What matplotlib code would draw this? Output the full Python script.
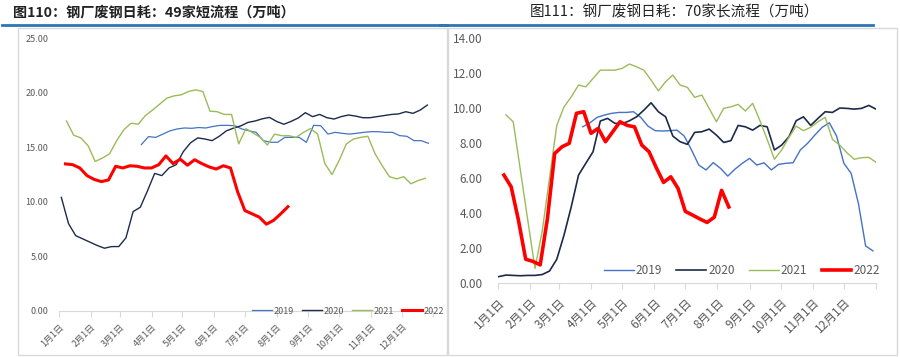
import numpy as np
import matplotlib
matplotlib.use("Agg")
import matplotlib.pyplot as plt
from matplotlib.patches import Rectangle
from matplotlib.lines import Line2D

plt.rcParams['font.family'] = ['Noto Sans CJK SC', 'DejaVu Sans']

# --- data (weekly readings, x = day of year of first reading) ---
month_days = [0, 31, 59, 90, 120, 151, 181, 212, 243, 273, 304, 334, 365]
month_labels = ['1月1日', '2月1日', '3月1日', '4月1日', '5月1日', '6月1日',
                '7月1日', '8月1日', '9月1日', '10月1日', '11月1日', '12月1日', '']
years = ['2019', '2020', '2021', '2022']

# 49 EAF mills (left)
short_start = [80, 2, 7, 6]
short_2019 = [15.24, 15.97, 15.9, 16.2, 16.5, 16.67, 16.76, 16.73, 16.8, 16.76,
              16.9, 17.0, 17.0, 16.97, 16.67, 16.5, 16.36, 15.6, 15.45, 15.45,
              15.9, 15.9, 15.9, 15.45, 17.0, 16.97, 16.2, 16.36, 16.27, 16.2,
              16.27, 16.36, 16.42, 16.42, 16.36, 16.36, 16.06, 16.0, 15.6, 15.6,
              15.36]
short_2020 = [10.4, 8.0, 6.9, 6.6, 6.3, 6.0, 5.75, 5.9, 5.9, 6.7,
              9.1, 9.5, 11.0, 12.6, 12.4, 13.1, 13.4, 14.6, 15.4, 15.85,
              15.75, 15.6, 16.0, 16.5, 16.75, 16.95, 17.27, 17.4, 17.6, 17.73,
              17.36, 17.1, 17.36, 17.67, 18.16, 17.8, 18.0, 17.7, 17.58, 17.8,
              17.95, 17.85, 17.7, 17.7, 17.8, 17.9, 18.0, 18.05, 18.25, 18.1,
              18.4, 18.86]
short_2021 = [17.4, 16.1, 15.85, 15.15, 13.7, 14.0, 14.4, 15.6, 16.6, 17.2,
              17.1, 17.9, 18.4, 18.95, 19.5, 19.7, 19.8, 20.1, 20.25, 20.1,
              18.3, 18.25, 18.0, 18.0, 15.3, 16.7, 16.3, 15.9, 15.2, 16.2,
              16.05, 16.05, 15.9, 16.35, 16.7, 16.2, 13.5, 12.5, 13.8, 15.3,
              15.75, 15.9, 16.0, 14.4, 13.3, 12.3, 12.1, 12.3, 11.65, 11.95,
              12.15]
short_2022 = [13.47, 13.4, 13.1, 12.4, 12.05, 11.85, 12.0, 13.25, 13.1, 13.3,
              13.25, 13.1, 13.1, 13.4, 14.2, 13.5, 13.9, 13.35, 13.85, 13.5,
              13.2, 13.0, 13.3, 13.1, 10.9, 9.2, 8.9, 8.6, 7.95, 8.3,
              8.9, 9.55]

# 70 BF mills (right)
long_start = [82, 1, 8, 6]
long_2019 = [8.92, 9.15, 9.46, 9.59, 9.69, 9.74, 9.74, 9.78, 9.46, 8.96,
             8.7, 8.68, 8.7, 8.73, 8.39, 7.6, 6.74, 6.46, 6.88, 6.55,
             6.11, 6.51, 6.84, 7.12, 6.74, 6.87, 6.46, 6.78, 6.84, 6.87,
             7.6, 7.98, 8.45, 8.89, 9.15, 8.39, 6.84, 6.27, 4.56, 2.13,
             1.85]
long_2020 = [0.38, 0.47, 0.45, 0.43, 0.45, 0.45, 0.5, 0.7, 1.37, 2.75,
             4.37, 6.17, 6.84, 7.5, 9.25, 9.4, 9.12, 9.1, 9.26, 9.49,
             9.87, 10.29, 9.78, 9.49, 8.39, 8.07, 7.92, 8.6, 8.64, 8.79,
             8.45, 8.03, 8.13, 9.0, 8.92, 8.73, 9.0, 8.92, 7.6, 7.88,
             8.35, 9.27, 9.49, 9.0, 9.4, 9.78, 9.74, 9.99, 9.97, 9.93,
             9.97, 10.14, 9.93]
long_2021 = [9.6, 9.2, 6.4, 3.6, 0.85, 3.0, 6.0, 9.0, 10.06, 10.63,
             11.3, 11.2, 11.68, 12.15, 12.15, 12.15, 12.25, 12.5, 12.34, 12.15,
             11.58, 10.97, 11.49, 11.87, 11.3, 11.17, 10.6, 10.73, 9.97, 9.21,
             9.97, 10.06, 10.2, 9.82, 10.26, 9.27, 8.2, 7.07, 7.6, 8.32,
             8.96, 8.7, 8.89, 9.21, 9.46, 8.2, 7.88, 7.44, 7.07, 7.16,
             7.18, 6.9]
long_2022 = [6.17, 5.5, 3.6, 1.37, 1.25, 1.05, 3.7, 7.4, 7.78, 7.98,
             9.69, 9.78, 8.55, 8.83, 8.07, 8.64, 9.21, 9.0, 8.92, 7.88,
             7.5, 6.59, 5.75, 6.07, 5.41, 4.1, 3.89, 3.67, 3.47, 3.77,
             5.3, 4.35]

colors = ['#4472C4', '#1C2B4A', '#9BBB59', '#FF0000']
W, H = 900, 357


def px_box(x0, y0, x1, y1):
    # pixel box (top-left origin) -> figure fraction
    return [x0 / W, 1 - y1 / H, (x1 - x0) / W, (y1 - y0) / H]


fig = plt.figure(figsize=(9, 3.57), dpi=100)

# frames and blue header rules
for x0, x1 in [(18, 447), (448, 897)]:
    fig.add_artist(Rectangle((x0 / W, 1 - 355 / H), (x1 - x0) / W, (355 - 28) / H,
                             transform=fig.transFigure, fill=False,
                             ec='#D9D9D9', lw=1))
fig.add_artist(Line2D([2 / W, 447 / W], [1 - 25 / H] * 2, transform=fig.transFigure,
                      color='#2E75B6', lw=2))
fig.add_artist(Line2D([440 / W, 873 / W], [1 - 25 / H] * 2, transform=fig.transFigure,
                      color='#2E75B6', lw=2))

fig.text(13 / W, 1 - 12 / H, '图110：钢厂废钢日耗：49家短流程（万吨）', fontsize=10.2,
         fontweight='bold', ha='left', va='center', color='#222222')
fig.text(530 / W, 1 - 12 / H, '图111：钢厂废钢日耗：70家长流程（万吨）', fontsize=10.5,
         ha='left', va='center', color='#222222')


def panel(box, starts, data, ylim, yticks, fs, lws, leg_center, leg_fs,
          handle_len, col_space, ypad, xpad):
    ax = fig.add_axes(box)
    for name, s, vals, c, lw in zip(years, starts, data, colors, lws):
        x = s + 7 * np.arange(len(vals))
        ax.plot(x, vals, color=c, lw=lw, label=name, solid_joinstyle='round')
    ax.set_xlim(0, 365)
    ax.set_ylim(*ylim)
    ax.set_yticks(yticks)
    ax.set_yticklabels([f'{v:.2f}' for v in yticks], fontsize=fs, color='#595959')
    ax.set_xticks(month_days)
    ax.set_xticklabels(month_labels, fontsize=fs, color='#595959', rotation=45,
                       ha='right', va='top', rotation_mode='anchor')
    for s in ['top', 'right', 'left']:
        ax.spines[s].set_visible(False)
    ax.spines['bottom'].set_color('#D9D9D9')
    ax.tick_params(axis='y', length=0, pad=ypad)
    ax.tick_params(axis='x', length=4, color='#D9D9D9', pad=xpad)
    ax.patch.set_alpha(0)
    ax.legend(ncol=4, frameon=False, loc='center', fontsize=leg_fs,
              bbox_to_anchor=(leg_center[0] / W, 1 - leg_center[1] / H),
              bbox_transform=fig.transFigure, handlelength=handle_len,
              handletextpad=0.2, columnspacing=col_space, labelcolor='#595959',
              borderaxespad=0, borderpad=0)
    return ax


panel(px_box(59.3, 38, 433.5, 311), short_start,
      [short_2019, short_2020, short_2021, short_2022],
      (0, 25), [0, 5, 10, 15, 20, 25], 6.5, [0.9, 1.0, 1.0, 2.2],
      (348, 311), 6.5, 2.2, 0.9, 8, 4)

panel(px_box(497.7, 37.7, 876, 283.3), long_start,
      [long_2019, long_2020, long_2021, long_2022],
      (0, 14), [0, 2, 4, 6, 8, 10, 12, 14], 8.5, [1.0, 1.2, 1.0, 2.6],
      (742, 271), 8.5, 2.5, 1.2, 11, 5)

fig.savefig('out.png', dpi=100)
